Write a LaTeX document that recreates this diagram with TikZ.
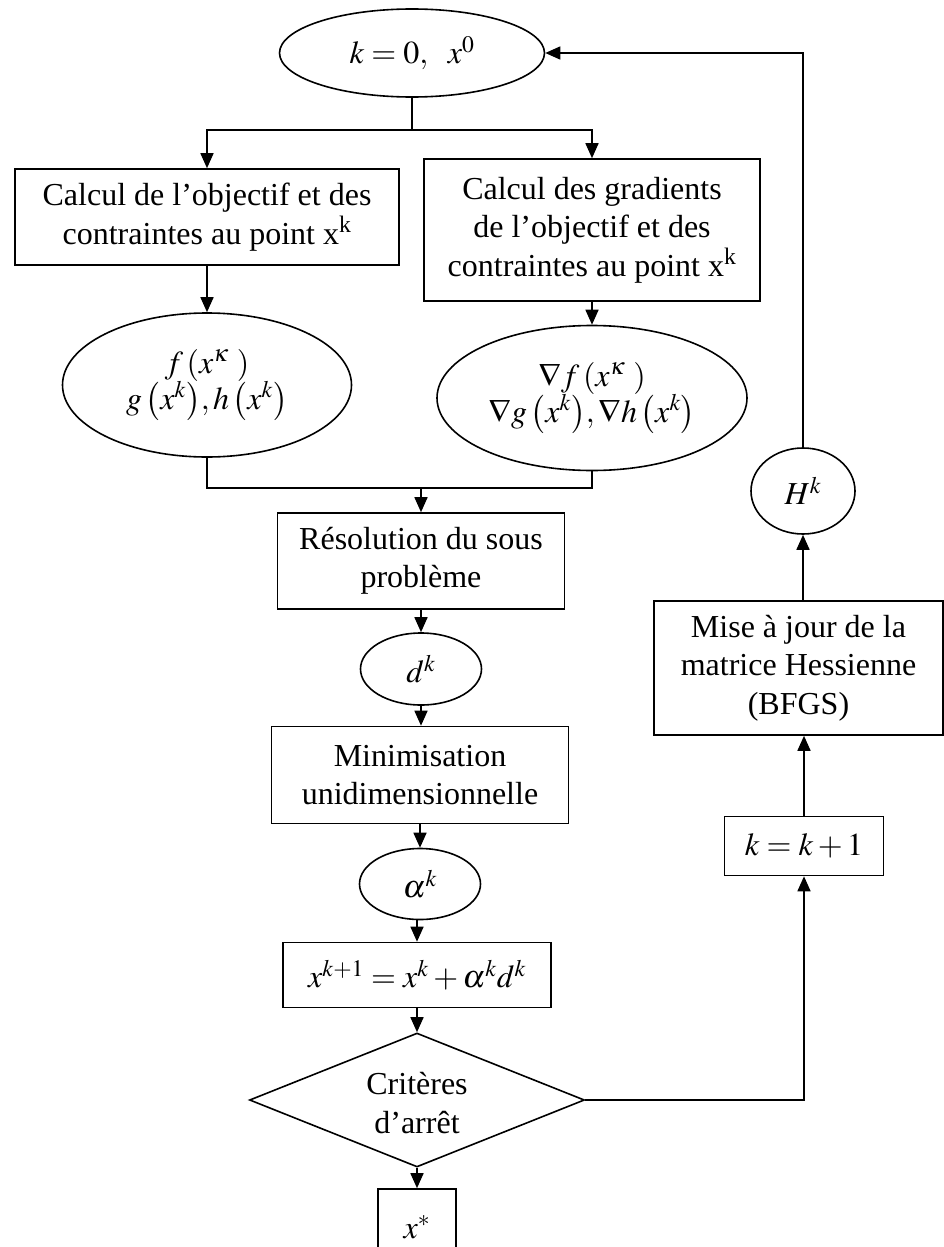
\documentclass[tikz,border=0pt]{standalone}
\usepackage{mathptmx}
\usepackage{fontspec}
\setmainfont{Liberation Serif}
\usetikzlibrary{shapes.geometric,arrows.meta}
\begin{document}
\begin{tikzpicture}[x=1pt,y=-1pt,
  every node/.style={font=\fontsize{32}{38.5}\selectfont, inner sep=0pt, align=center},
  shp/.style={draw, line width=1.6pt},
  box/.style={shp, rectangle},
  ell/.style={shp, ellipse},
  ln/.style={line width=1.6pt},
  arr/.style={line width=1.6pt, -{Triangle[length=15pt,width=13pt]}}]
\useasboundingbox (0,0) rectangle (944,1247);
% nodes
\node[ell, minimum width=265pt, minimum height=88pt] (top) at (412,53) {$k=0,\ \ x^{0}$};
\node[box, minimum width=384pt, minimum height=96pt] (lbox) at (207,217)
  {Calcul de l’objectif et des\\contraintes au point x\textsuperscript{k}};
\node[box, minimum width=336pt, minimum height=142pt] (rbox) at (592,230)
  {Calcul des gradients\\de l’objectif et des\\contraintes au point x\textsuperscript{k}};
\node[ell, minimum width=289pt, minimum height=144pt, font=\fontsize{32}{36}\selectfont] (lell) at (207,385)
  {$f\left(x^{\kappa}\ \right)$\\$g\left(x^{k}\right)\!,h\left(x^{k}\right)$};
\node[ell, minimum width=310pt, minimum height=145pt, font=\fontsize{32}{36}\selectfont] (rell) at (592,398)
  {$\nabla f\left(x^{\kappa}\ \right)$\\$\nabla g\left(x^{k}\right)\!,\nabla h\left(x^{k}\right)$};
\node[box, minimum width=287pt, minimum height=96pt] (res) at (421,561) {Résolution du sous\\problème};
\node[ell, minimum width=121pt, minimum height=72pt] (dk) at (421,669) {$d^{k}$};
\node[box, minimum width=297pt, minimum height=97pt] (mini) at (420,775) {Minimisation\\unidimensionnelle};
\node[ell, minimum width=121pt, minimum height=71pt] (alpha) at (420,884) {$\alpha^{k}$};
\node[box, minimum width=268pt, minimum height=65pt] (upd) at (417,975) {$x^{k+1}=x^{k}+\alpha^{k}d^{k}$};
\node[shp, diamond, minimum width=335pt, minimum height=134pt] (dia) at (417,1100) {};
\node (diatxt) at (417,1103) {Critères\\d’arrêt};
\node[box, minimum width=78pt, minimum height=76pt] (xs) at (417,1227) {$x^{*}$};
\node[ell, minimum width=104pt, minimum height=86pt] (Hk) at (803,491) {$H^{k}$};
\node[box, minimum width=289pt, minimum height=134pt] (bfgs) at (798.5,668)
  {Mise à jour de la\\matrice Hessienne\\(BFGS)};
\node[box, minimum width=159pt, minimum height=59pt] (kk) at (804,846) {$k=k+1$};
% connectors
\coordinate (j1) at (412,130);
\coordinate (j2) at (421,488);
\draw[ln] (top.south) -- (j1);
\draw[arr] (j1) -| (lbox.north);
\draw[arr] (j1) -| (rbox.north);
\draw[arr] (lbox.south) -- (lell.north);
\draw[arr] (rbox.south) -- (rell.north);
\draw[ln] (lell.south) |- (j2);
\draw[ln] (rell.south) |- (j2);
\draw[arr] (j2) -- (res.north);
\draw[arr] (res.south) -- (dk.north);
\draw[arr] (dk.south) -- (dk.south |- mini.north);
\draw[arr] (mini.south) -- (alpha.north);
\draw[arr] (upd.north |- alpha.south) -- (upd.north);
\draw[arr] (upd.south) -- (dia.north);
\draw[arr] (dia.south) -- (xs.north);
\draw[arr] (dia.east) -| (kk.south);
\draw[arr] (kk.north) -- (kk.north |- bfgs.south);
\draw[arr] (Hk.south |- bfgs.north) -- (Hk.south);
\draw[arr] (Hk.north) |- (top.east);
\end{tikzpicture}
\end{document}
